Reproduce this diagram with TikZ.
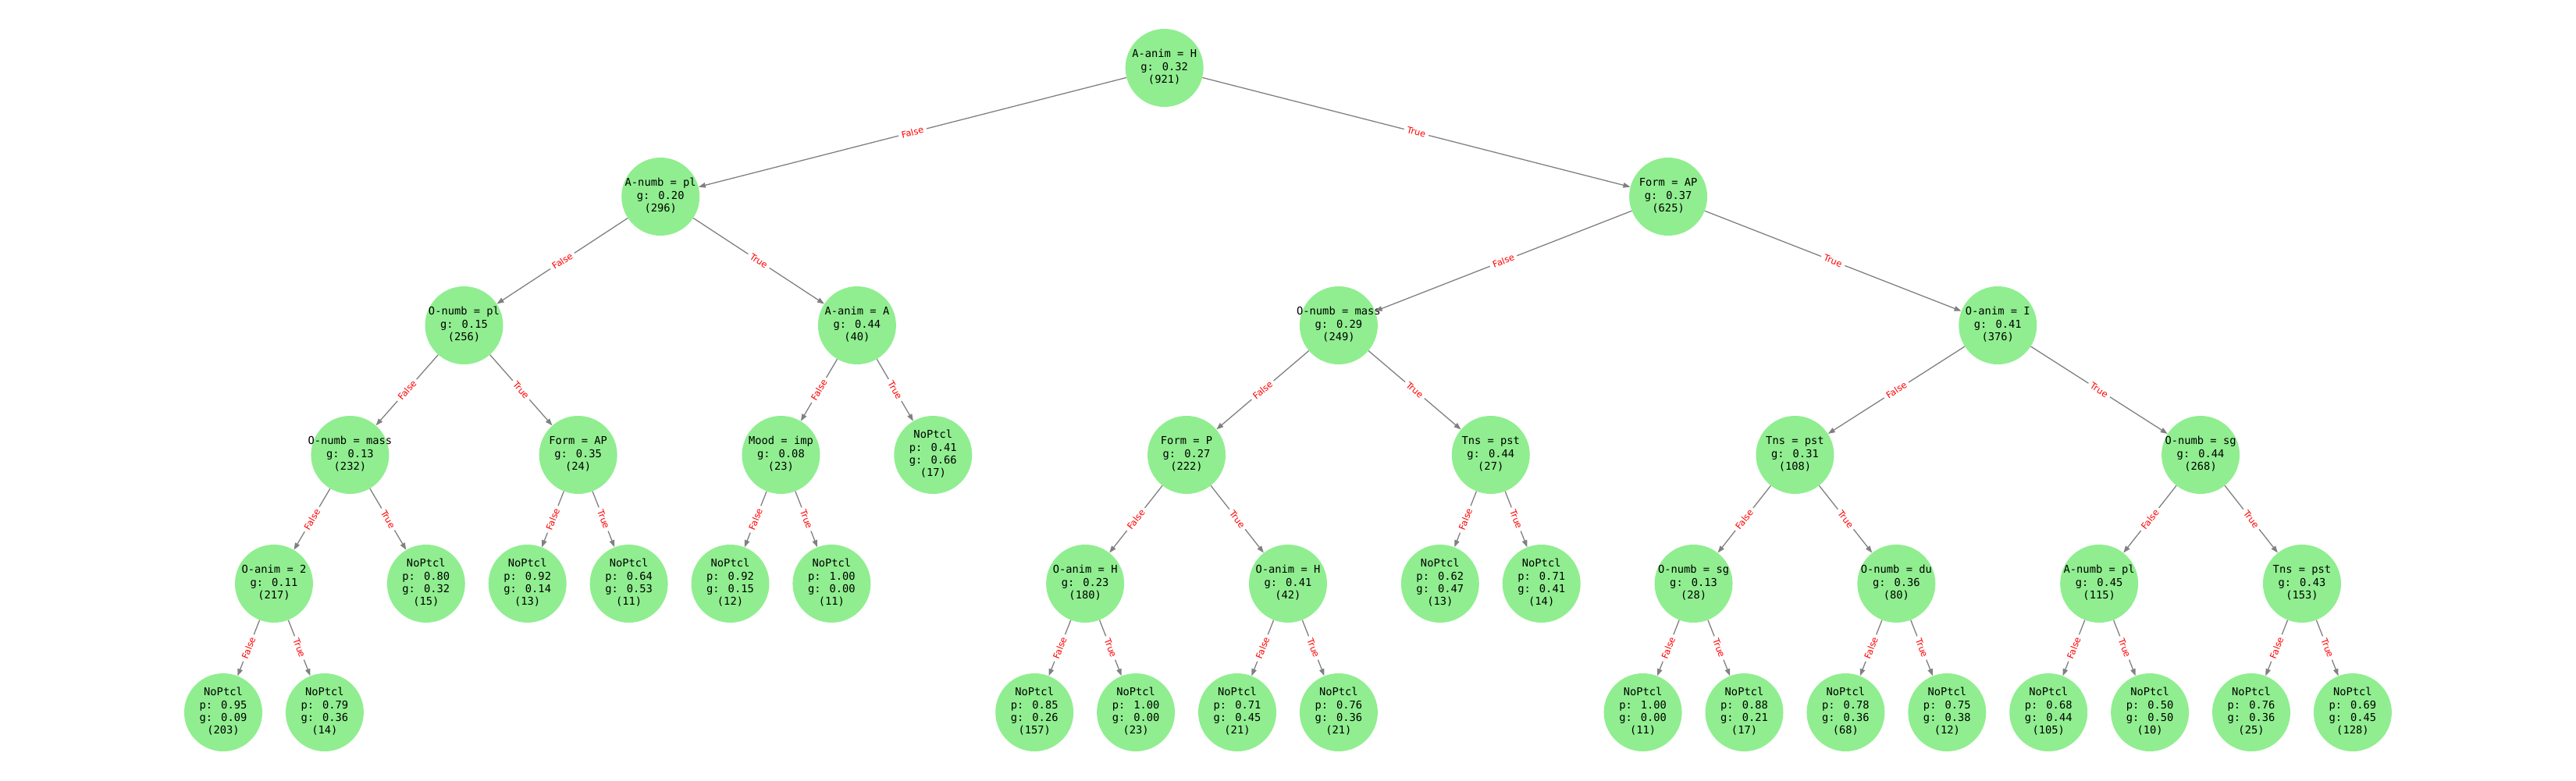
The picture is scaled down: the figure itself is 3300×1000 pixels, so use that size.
\documentclass[tikz,border=0pt]{standalone}
\usepackage{fontspec}
\usetikzlibrary{arrows.meta}
\newfontfamily\monof{DejaVu Sans Mono}
\newfontfamily\labf{DejaVu Sans}
\definecolor{nodegreen}{HTML}{90EE90}
\definecolor{edgegray}{HTML}{808080}
\newcommand\nodetxt[1]{\makebox[0pt]{\begin{tabular}{@{}c@{}}#1\end{tabular}}}
\tikzset{
  tn/.style={circle, fill=nodegreen, draw=none, minimum size=100bp, inner sep=0pt,
    font=\monof\fontsize{13.8}{16.4}\selectfont, text=black},
  edg/.style={draw=edgegray, line width=1.3bp, -{Triangle[length=9bp,width=6.5bp]}},
  elab/.style={sloped, midway, fill=white, text=red, inner xsep=4bp, inner ysep=1.5bp,
    font=\labf\fontsize{11.5}{13}\selectfont}
}
\begin{document}
\begin{tikzpicture}[x=1bp, y=-1bp]
\useasboundingbox (0,0) rectangle (3300,1000);
% level 0
\node[tn] (r) at (1491.65,87) {\nodetxt{A-anim = H\\g: 0.32\\(921)}};
% level 1
\node[tn] (a) at (846.2,252) {\nodetxt{A-numb = pl\\g: 0.20\\(296)}};
\node[tn] (b) at (2137.1,252) {\nodetxt{Form = AP\\g: 0.37\\(625)}};
% level 2
\node[tn] (aa) at (594.5,417) {\nodetxt{O-numb = pl\\g: 0.15\\(256)}};
\node[tn] (ab) at (1097.9,417) {\nodetxt{A-anim = A\\g: 0.44\\(40)}};
\node[tn] (ba) at (1714.9,417) {\nodetxt{O-numb = mass\\g: 0.29\\(249)}};
\node[tn] (bb) at (2559.25,417) {\nodetxt{O-anim = I\\g: 0.41\\(376)}};
% level 3
\node[tn] (aaa) at (448.4,583) {\nodetxt{O-numb = mass\\g: 0.13\\(232)}};
\node[tn] (aab) at (740.65,583) {\nodetxt{Form = AP\\g: 0.35\\(24)}};
\node[tn] (aba) at (1000.45,583) {\nodetxt{Mood = imp\\g: 0.08\\(23)}};
\node[tn] (abb) at (1195.3,583) {\nodetxt{NoPtcl\\p: 0.41\\g: 0.66\\(17)}};
\node[tn] (baa) at (1520.05,583) {\nodetxt{Form = P\\g: 0.27\\(222)}};
\node[tn] (bab) at (1909.75,583) {\nodetxt{Tns = pst\\g: 0.44\\(27)}};
\node[tn] (bba) at (2299.45,583) {\nodetxt{Tns = pst\\g: 0.31\\(108)}};
\node[tn] (bbb) at (2819.05,583) {\nodetxt{O-numb = sg\\g: 0.44\\(268)}};
% level 4
\node[tn] (aaaa) at (350.95,748) {\nodetxt{O-anim = 2\\g: 0.11\\(217)}};
\node[tn] (aaab) at (545.8,748) {\nodetxt{NoPtcl\\p: 0.80\\g: 0.32\\(15)}};
\node[tn] (aaba) at (675.7,748) {\nodetxt{NoPtcl\\p: 0.92\\g: 0.14\\(13)}};
\node[tn] (aabb) at (805.6,748) {\nodetxt{NoPtcl\\p: 0.64\\g: 0.53\\(11)}};
\node[tn] (abaa) at (935.5,748) {\nodetxt{NoPtcl\\p: 0.92\\g: 0.15\\(12)}};
\node[tn] (abab) at (1065.4,748) {\nodetxt{NoPtcl\\p: 1.00\\g: 0.00\\(11)}};
\node[tn] (baaa) at (1390.15,748) {\nodetxt{O-anim = H\\g: 0.23\\(180)}};
\node[tn] (baab) at (1649.95,748) {\nodetxt{O-anim = H\\g: 0.41\\(42)}};
\node[tn] (baba) at (1844.8,748) {\nodetxt{NoPtcl\\p: 0.62\\g: 0.47\\(13)}};
\node[tn] (babb) at (1974.7,748) {\nodetxt{NoPtcl\\p: 0.71\\g: 0.41\\(14)}};
\node[tn] (bbaa) at (2169.55,748) {\nodetxt{O-numb = sg\\g: 0.13\\(28)}};
\node[tn] (bbab) at (2429.35,748) {\nodetxt{O-numb = du\\g: 0.36\\(80)}};
\node[tn] (bbba) at (2689.15,748) {\nodetxt{A-numb = pl\\g: 0.45\\(115)}};
\node[tn] (bbbb) at (2948.95,748) {\nodetxt{Tns = pst\\g: 0.43\\(153)}};
% level 5
\node[tn] (l0) at (286,913) {\nodetxt{NoPtcl\\p: 0.95\\g: 0.09\\(203)}};
\node[tn] (l1) at (415.9,913) {\nodetxt{NoPtcl\\p: 0.79\\g: 0.36\\(14)}};
\node[tn] (l8) at (1325.2,913) {\nodetxt{NoPtcl\\p: 0.85\\g: 0.26\\(157)}};
\node[tn] (l9) at (1455.1,913) {\nodetxt{NoPtcl\\p: 1.00\\g: 0.00\\(23)}};
\node[tn] (l10) at (1585,913) {\nodetxt{NoPtcl\\p: 0.71\\g: 0.45\\(21)}};
\node[tn] (l11) at (1714.9,913) {\nodetxt{NoPtcl\\p: 0.76\\g: 0.36\\(21)}};
\node[tn] (l14) at (2104.6,913) {\nodetxt{NoPtcl\\p: 1.00\\g: 0.00\\(11)}};
\node[tn] (l15) at (2234.5,913) {\nodetxt{NoPtcl\\p: 0.88\\g: 0.21\\(17)}};
\node[tn] (l16) at (2364.4,913) {\nodetxt{NoPtcl\\p: 0.78\\g: 0.36\\(68)}};
\node[tn] (l17) at (2494.3,913) {\nodetxt{NoPtcl\\p: 0.75\\g: 0.38\\(12)}};
\node[tn] (l18) at (2624.2,913) {\nodetxt{NoPtcl\\p: 0.68\\g: 0.44\\(105)}};
\node[tn] (l19) at (2754.1,913) {\nodetxt{NoPtcl\\p: 0.50\\g: 0.50\\(10)}};
\node[tn] (l20) at (2884,913) {\nodetxt{NoPtcl\\p: 0.76\\g: 0.36\\(25)}};
\node[tn] (l21) at (3013.9,913) {\nodetxt{NoPtcl\\p: 0.69\\g: 0.45\\(128)}};
% edges
\foreach \p/\f/\t in {r/a/b, a/aa/ab, b/ba/bb, aa/aaa/aab, ab/aba/abb, ba/baa/bab, bb/bba/bbb,
  aaa/aaaa/aaab, aab/aaba/aabb, aba/abaa/abab, baa/baaa/baab, bab/baba/babb,
  bba/bbaa/bbab, bbb/bbba/bbbb, aaaa/l0/l1, baaa/l8/l9, baab/l10/l11,
  bbaa/l14/l15, bbab/l16/l17, bbba/l18/l19, bbbb/l20/l21}{
  \draw[edg] (\p) -- node[elab] {False} (\f);
  \draw[edg] (\p) -- node[elab] {True} (\t);
}
\end{tikzpicture}
\end{document}
